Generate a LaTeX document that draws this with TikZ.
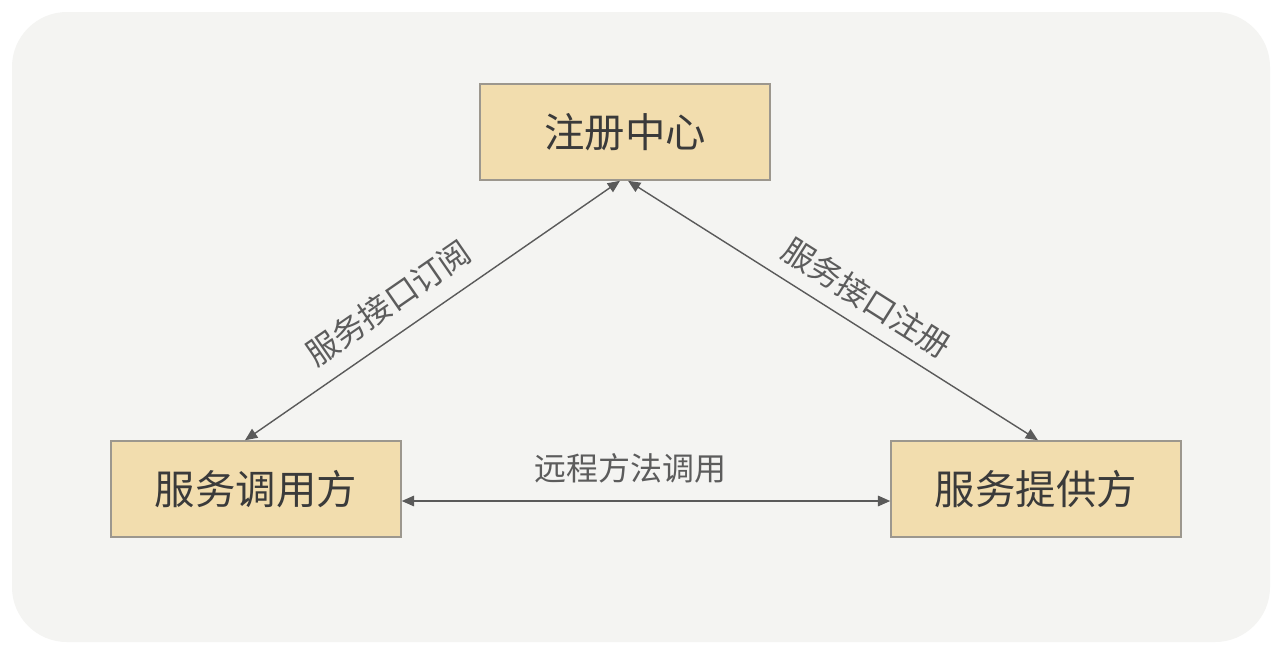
\documentclass[tikz,border=0pt]{standalone}
\usepackage{fontspec}
\setmainfont{Noto Sans CJK SC}
\usepackage{xcolor}
\usetikzlibrary{arrows.meta}
\definecolor{boxfill}{HTML}{F2DDAE}
\definecolor{boxline}{HTML}{9C978E}
\definecolor{panel}{HTML}{F4F4F2}
\definecolor{linkgray}{HTML}{5A5A5A}
\definecolor{textgray}{HTML}{3A3A3A}
\definecolor{taggray}{HTML}{5C5C5C}
\begin{document}
\begin{tikzpicture}[x=0.02cm,y=-0.02cm,
  role/.style={draw=boxline,line width=0.9pt,fill=boxfill,minimum width=5.8cm,minimum height=1.92cm,
    inner sep=0pt,text=textgray,font=\fontsize{23}{27}\selectfont},
  link/.style={draw=linkgray,line width=0.8pt,{Triangle[length=7pt,width=6pt]}-{Triangle[length=7pt,width=6pt]}},
  tag/.style={text=taggray,font=\fontsize{18.2}{21}\selectfont,inner sep=0pt}]
\useasboundingbox (0,0) rectangle (1282,654);
\fill[white] (0,0) rectangle (1282,654);
\fill[panel,rounded corners=1.1cm] (12,12) rectangle (1270,642);
\node[role] (registry) at (625,132) {注册中心};
\node[role] (caller) at (256,489) {服务调用方};
\node[role] (provider) at (1036,489) {服务提供方};
\draw[link] ([xshift=-0.22cm]caller.north) -- ([xshift=-0.1cm]registry.south)
  node[tag,pos=0.43,sloped,above=0.32cm] (subscribe) {服务接口订阅};
\draw[link] ([xshift=0.06cm]registry.south) -- ([xshift=0.04cm]provider.north)
  node[tag,pos=0.546,sloped,above=0.27cm] (register) {服务接口注册};
\draw[link] ([yshift=-0.24cm]caller.east) -- ([yshift=-0.24cm]provider.west)
  node[tag,pos=0.468,above=0.34cm] (invoke) {远程方法调用};
\end{tikzpicture}
\end{document}
